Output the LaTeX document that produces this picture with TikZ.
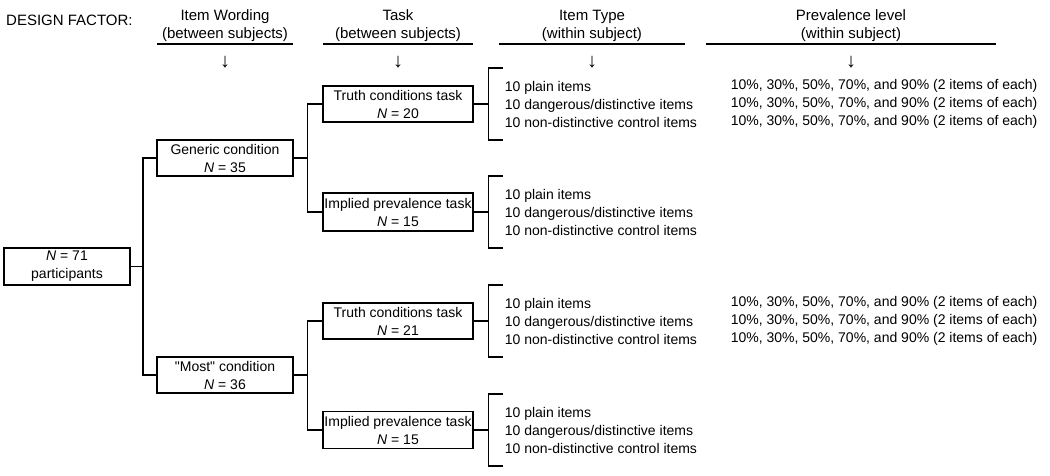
\documentclass[tikz,border=0pt]{standalone}
\usepackage{fontspec}
\setmainfont{Liberation Sans}[Ligatures=TeXOff]
\usetikzlibrary{%
    calc,
    positioning
}

\tikzset{
    every node/.style={font=\fontsize{14}{18}\selectfont, inner sep=0pt},
    cond/.style={draw, line width=1.2pt, minimum height=36pt,
                 inner sep=1pt, align=center},
    heading/.style={align=center, font=\fontsize{15}{18}\selectfont},
    down/.style={font=\fontsize{20}{20}\selectfont},
    items/.style={align=left, anchor=west},
    link/.style={line width=1.2pt}
}

\begin{document}
\begin{tikzpicture}[x=1pt, y=-1pt]
    \useasboundingbox (0,0) rectangle (1050,476);

    \node[heading, anchor=west] (factor) at (6,20) {DESIGN FACTOR:};

    \foreach \Name/\Mid/\From/\To/\Top/\Sub in {%
        wording/225/157/293/Item Wording/between subjects,
        task/398/323/473/Task/between subjects,
        type/592/499/685/Item Type/within subject,
        level/851/706/996/Prevalence level/within subject%
        } {
        \node[heading] (\Name) at (\Mid,26) {\Top\\(\Sub)};
        \draw[line width=1.2pt] (\From,44) -- (\To,44);
        \node[down] (\Name-arrow) at (\Mid,62) {↓};
    }

    \node[cond, minimum width=126pt, minimum height=37pt] (root) at (67,266.5)
        {\textit{N} = 71\\participants};

    \node[cond, minimum width=136pt] (generic) at (225,158)
        {Generic condition\\\textit{N} = 35};
    \node[cond, minimum width=136pt] (most) at (225,375)
        {"Most" condition\\\textit{N} = 36};

    \node[cond, minimum width=150pt] (truthA) at (398,104)
        {Truth conditions task\\\textit{N} = 20};
    \node[cond, minimum width=150pt, minimum height=38pt] (implA) at (398,212)
        {Implied prevalence task\\\textit{N} = 15};
    \node[cond, minimum width=150pt] (truthB) at (398,321)
        {Truth conditions task\\\textit{N} = 21};
    \node[cond, minimum width=150pt, minimum height=37pt] (implB) at (398,430)
        {Implied prevalence task\\\textit{N} = 15};

    % tree
    \coordinate (split) at (143,266.5);
    \draw[link] (root) -- (split);
    \draw[link] (generic.west) -| (split) |- (most.west);

    \foreach \Cond/\Upper/\Lower in {generic/truthA/implA, most/truthB/implB} {
        \coordinate (\Cond-split) at ($(\Cond.east)+(14pt,0pt)$);
        \draw[link] (\Cond) -- (\Cond-split);
        \draw[link] (\Upper.west) -| (\Cond-split) |- (\Lower.west);
    }

    % item type brackets
    \foreach \Task in {truthA,implA,truthB,implB} {
        \coordinate (\Task-brace) at ($(\Task.east)+(15pt,0pt)$);
        \draw[link] (\Task) -- (\Task-brace);
        \draw[link] ([shift={(14pt,36pt)}]\Task-brace) -- ++(-14pt,0pt)
            -- ++(0pt,-72pt) -- ++(14pt,0pt);
        \node[items] (\Task-items) at ($(\Task-brace)+(16pt,0pt)$)
            {10 plain items\\10 dangerous/distinctive items\\10 non-distinctive control items};
    }

    \foreach \Task in {truthA,truthB}
        \node[items] (\Task-levels) at ($(\Task-brace)+(242pt,0pt)$)
            {10\%, 30\%, 50\%, 70\%, and 90\% (2 items of each)\\
             10\%, 30\%, 50\%, 70\%, and 90\% (2 items of each)\\
             10\%, 30\%, 50\%, 70\%, and 90\% (2 items of each)};
\end{tikzpicture}
\end{document}
